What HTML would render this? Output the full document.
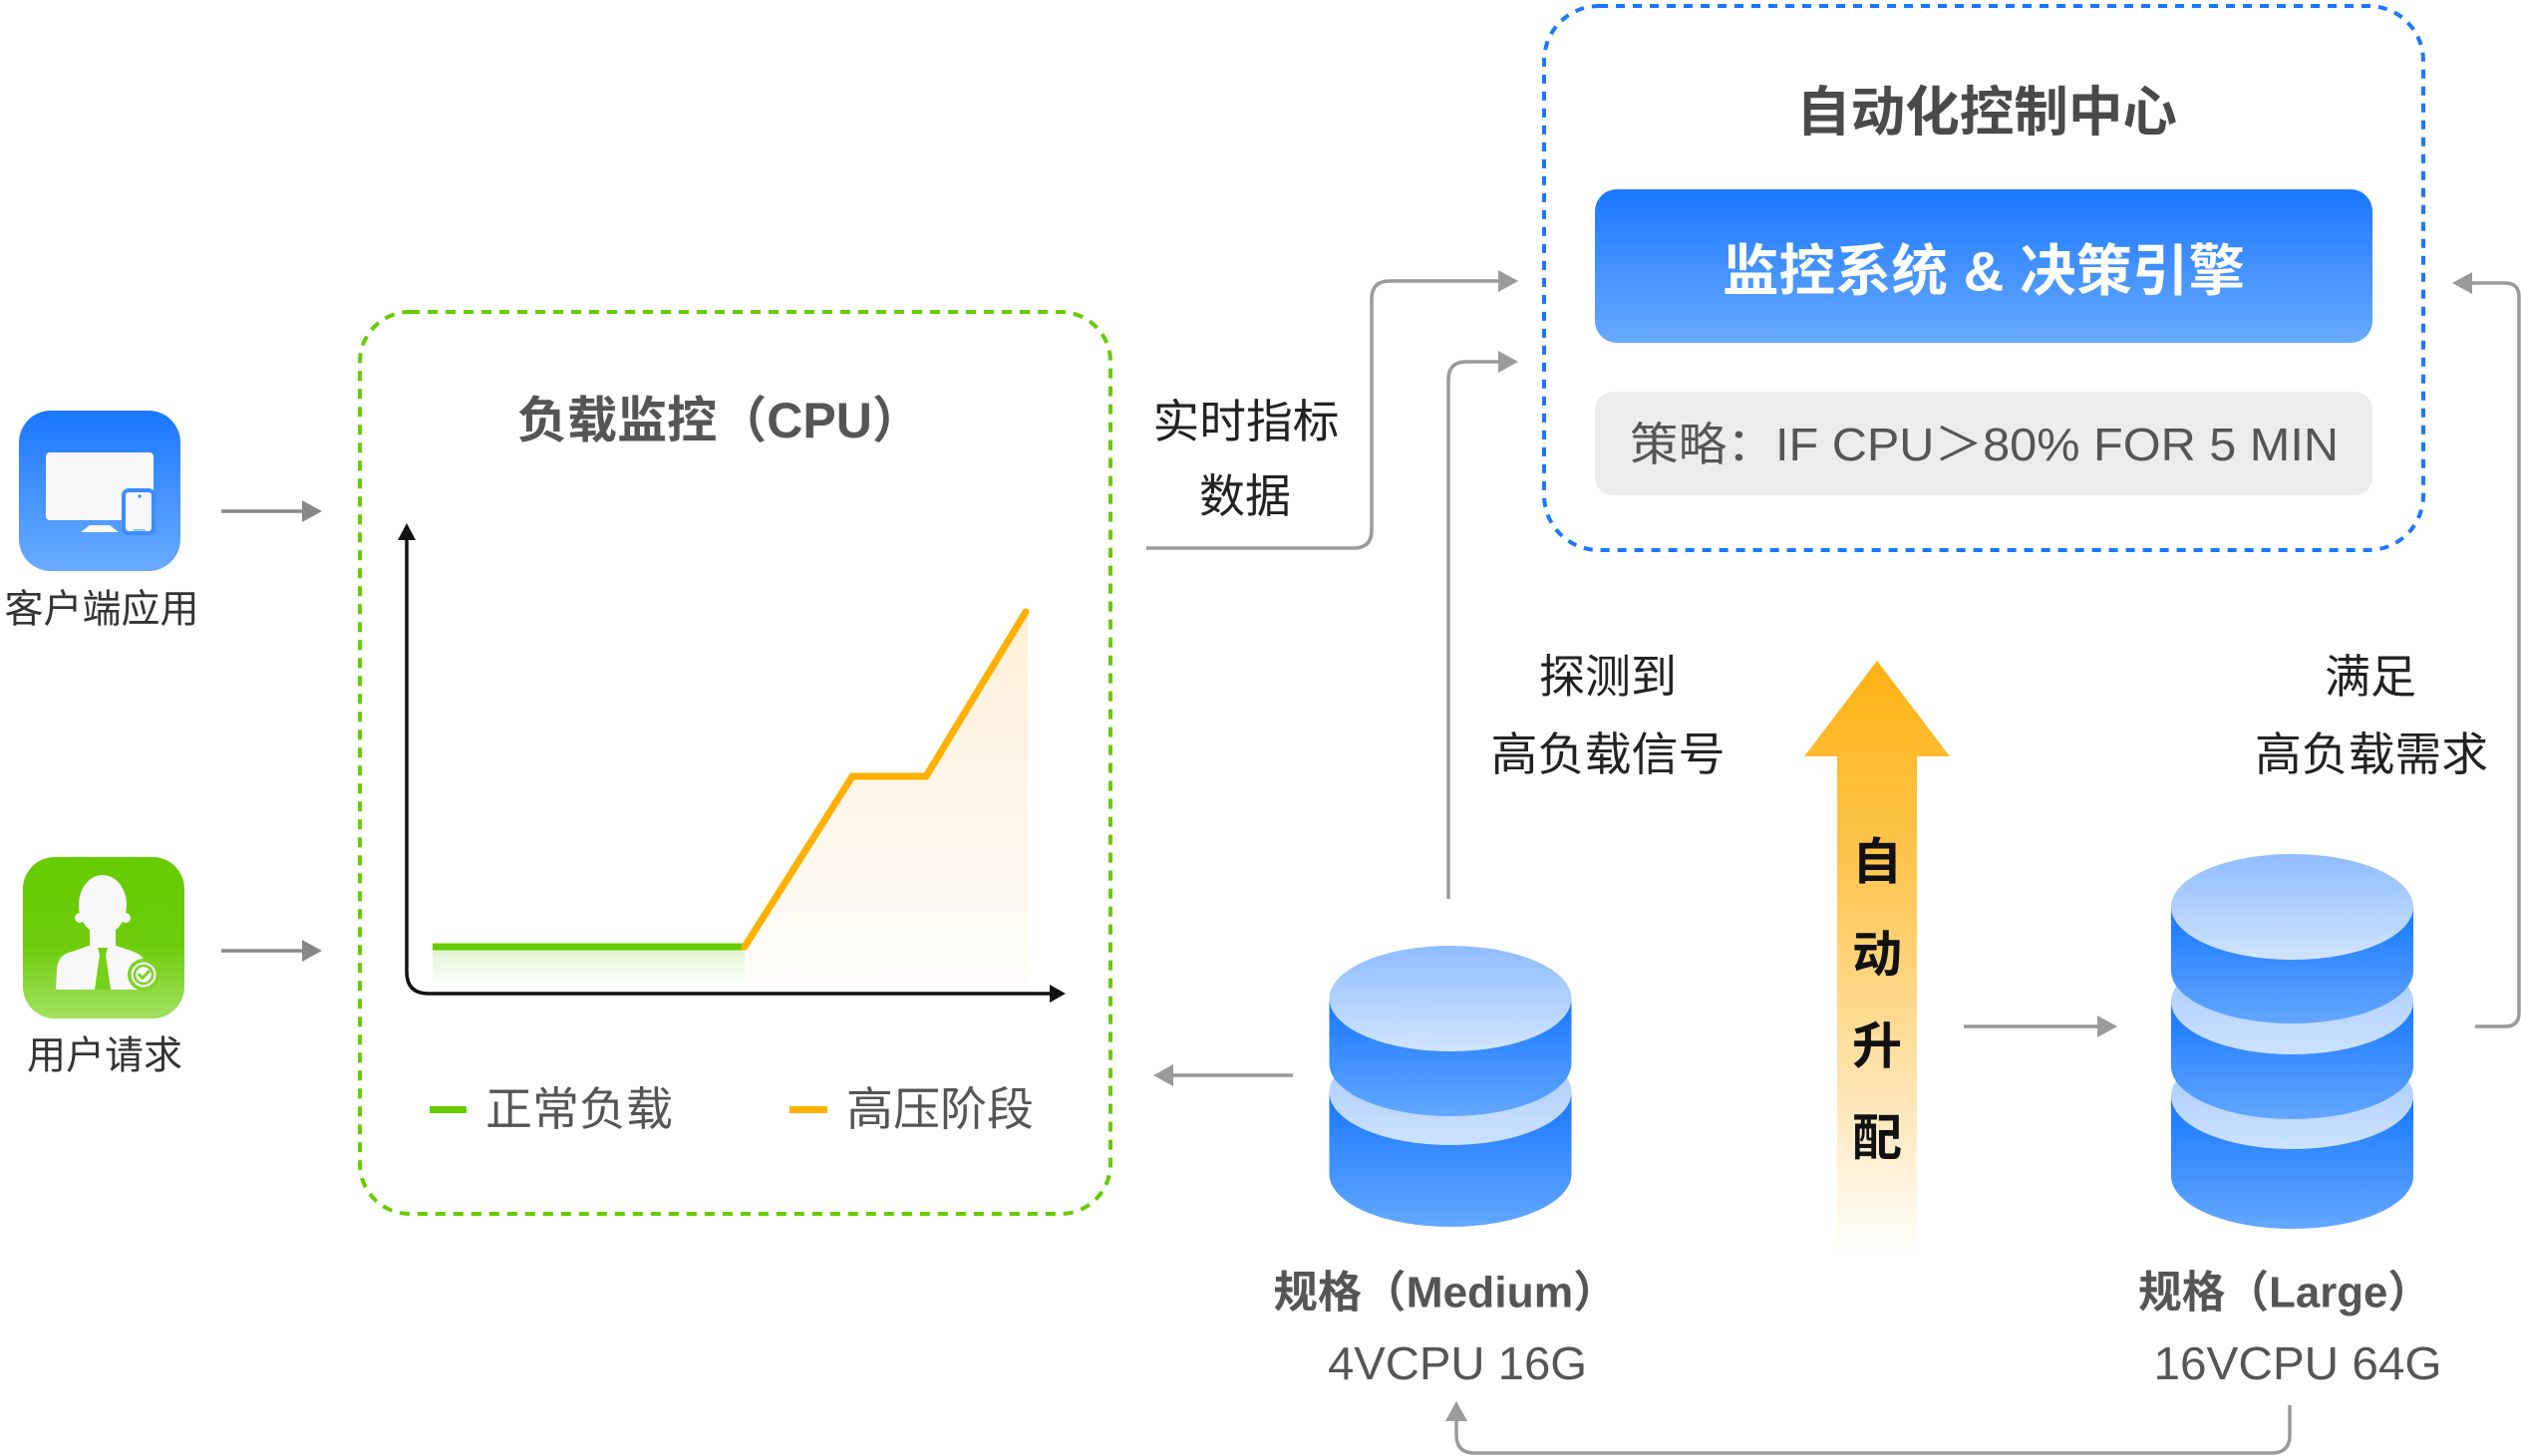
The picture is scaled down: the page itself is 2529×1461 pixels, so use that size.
<!DOCTYPE html>
<html>
<head>
<meta charset="utf-8">
<style>
html,body{margin:0;padding:0;background:#fff;}
svg{display:block;}
text{font-family:"Liberation Sans","Noto Sans CJK SC",sans-serif;}
</style>
</head>
<body>
<svg width="2529" height="1461" viewBox="0 0 2529 1461" xmlns="http://www.w3.org/2000/svg">
<defs>
  <linearGradient id="gBlueIcon" x1="0" y1="0" x2="0" y2="1">
    <stop offset="0" stop-color="#1a77ff"/>
    <stop offset="1" stop-color="#6aabff"/>
  </linearGradient>
  <linearGradient id="gGreenIcon" x1="0" y1="0" x2="0" y2="1">
    <stop offset="0" stop-color="#66cc00"/>
    <stop offset="0.55" stop-color="#6dcd0c"/>
    <stop offset="1" stop-color="#a3e063"/>
  </linearGradient>
  <linearGradient id="gBtn" x1="0" y1="0" x2="0" y2="1">
    <stop offset="0" stop-color="#1a77ff"/>
    <stop offset="1" stop-color="#68aaff"/>
  </linearGradient>
  <linearGradient id="gSide" x1="0" y1="0" x2="0" y2="1">
    <stop offset="0" stop-color="#1677ff"/>
    <stop offset="1" stop-color="#63a7ff"/>
  </linearGradient>
  <linearGradient id="gTop" x1="0" y1="0" x2="0" y2="1">
    <stop offset="0" stop-color="#8fbcff"/>
    <stop offset="1" stop-color="#d1e5ff"/>
  </linearGradient>
  <linearGradient id="gTop2" x1="0" y1="0" x2="0" y2="1">
    <stop offset="0" stop-color="#a2c7ff"/>
    <stop offset="1" stop-color="#cde2ff"/>
  </linearGradient>
  <linearGradient id="gArrow" gradientUnits="userSpaceOnUse" x1="0" y1="663" x2="0" y2="1260">
    <stop offset="0" stop-color="#ffb214"/>
    <stop offset="0.35" stop-color="#fec650"/>
    <stop offset="0.65" stop-color="#fddf9e"/>
    <stop offset="0.83" stop-color="#feefd0"/>
    <stop offset="1" stop-color="#ffffff"/>
  </linearGradient>
  <linearGradient id="gGreenFill" gradientUnits="userSpaceOnUse" x1="0" y1="950" x2="0" y2="988">
    <stop offset="0" stop-color="#e3f5d2"/>
    <stop offset="1" stop-color="#fbfef8"/>
  </linearGradient>
  <linearGradient id="gOrangeFill" gradientUnits="userSpaceOnUse" x1="0" y1="613" x2="0" y2="988">
    <stop offset="0" stop-color="#fdefd8"/>
    <stop offset="1" stop-color="#fffdfa"/>
  </linearGradient>
</defs>

<!-- ============ Left icons ============ -->
<rect x="19" y="412" width="162" height="161" rx="32" fill="url(#gBlueIcon)"/>
<rect x="46" y="454" width="108" height="68" rx="4" fill="#f8f8f8"/>
<polygon points="90,527 110,527 119,534 81,534" fill="#f8f8f8"/>
<rect x="124" y="492" width="30" height="43" rx="5" fill="#f8f8f8" stroke="#3d8cff" stroke-width="4"/>
<circle cx="140" cy="498" r="1.6" fill="#3d8cff"/>
<rect x="134" y="531" width="12" height="1.6" fill="#8ab8ff"/>
<text x="102" y="612" font-size="39" fill="#333" text-anchor="middle" dominant-baseline="central" textLength="195" lengthAdjust="spacingAndGlyphs">客户端应用</text>

<rect x="23" y="860" width="162" height="162" rx="32" fill="url(#gGreenIcon)"/>
<!-- person -->
<ellipse cx="103" cy="908" rx="24" ry="30" fill="#f8f8f8"/>
<circle cx="80" cy="921" r="5" fill="#f8f8f8"/>
<circle cx="126" cy="921" r="5" fill="#f8f8f8"/>
<rect x="90" y="926" width="26" height="26" fill="#f8f8f8"/>
<path d="M56,993 L57,972 Q58,958 72,955 L92,948 L114,948 L134,955 Q146,959 147,972 L148,993 Z" fill="#f8f8f8"/>
<polygon points="98,951 108,951 106,958 100,958" fill="#74d018"/>
<polygon points="100,958 106,958 111,993 95,993" fill="#74d018"/>
<circle cx="144" cy="978" r="16" fill="#7bd425"/>
<circle cx="144" cy="978" r="12.5" fill="#f8f8f8"/>
<circle cx="144" cy="978" r="9" fill="#f8f8f8" stroke="#7bd425" stroke-width="2.6"/>
<path d="M139.5,978 L143,981.5 L149,975" fill="none" stroke="#7bd425" stroke-width="3" stroke-linecap="round" stroke-linejoin="round"/>
<text x="105" y="1060" font-size="39" fill="#333" text-anchor="middle" dominant-baseline="central" textLength="156" lengthAdjust="spacingAndGlyphs">用户请求</text>

<!-- icon arrows -->
<line x1="222" y1="513" x2="305" y2="513" stroke="#888" stroke-width="3.5"/>
<polygon points="323,513 303,502 303,524" fill="#888"/>
<line x1="222" y1="954" x2="305" y2="954" stroke="#888" stroke-width="3.5"/>
<polygon points="323,954 303,943 303,965" fill="#888"/>

<!-- ============ Green dashed box (CPU) ============ -->
<rect x="361" y="313" width="753" height="905" rx="50" fill="none" stroke="#66cc00" stroke-width="4" stroke-dasharray="10 8"/>
<text x="722" y="422" font-size="50" font-weight="bold" fill="#555" text-anchor="middle" dominant-baseline="central" textLength="406" lengthAdjust="spacingAndGlyphs">负载监控（CPU）</text>

<!-- chart fills -->
<rect x="434" y="950" width="313" height="38" fill="url(#gGreenFill)"/>
<polygon points="747,950 855,779 929,779 1031,613 1031,988 747,988" fill="url(#gOrangeFill)"/>
<!-- axes -->
<path d="M408,540 L408,975 Q408,997 430,997 L1056,997" fill="none" stroke="#111" stroke-width="3.5"/>
<polygon points="408,525 399,542 417,542" fill="#111"/>
<polygon points="1069,997 1053,988 1053,1006" fill="#111"/>
<!-- lines -->
<line x1="434" y1="950" x2="747" y2="950" stroke="#66cc00" stroke-width="7"/>
<polyline points="747,950 855,779 929,779 1029,614" fill="none" stroke="#ffb000" stroke-width="7" stroke-linecap="round" stroke-linejoin="miter"/>
<!-- legend -->
<rect x="431" y="1110" width="37" height="7" fill="#66cc00"/>
<text x="487" y="1113" font-size="46" fill="#555" dominant-baseline="central" textLength="188" lengthAdjust="spacingAndGlyphs">正常负载</text>
<rect x="792" y="1110" width="38" height="7" fill="#ffb000"/>
<text x="849" y="1113" font-size="46" fill="#555" dominant-baseline="central" textLength="188" lengthAdjust="spacingAndGlyphs">高压阶段</text>

<!-- ============ Blue dashed box ============ -->
<rect x="1549" y="6" width="882" height="546" rx="55" fill="none" stroke="#1a77ff" stroke-width="4" stroke-dasharray="9 8"/>
<text x="1993" y="113" font-size="54" font-weight="bold" fill="#4a4a4a" text-anchor="middle" dominant-baseline="central" textLength="382" lengthAdjust="spacingAndGlyphs">自动化控制中心</text>
<rect x="1600" y="190" width="780" height="154" rx="22" fill="url(#gBtn)"/>
<text x="1990" y="272" font-size="56" font-weight="bold" fill="#fff" text-anchor="middle" dominant-baseline="central" textLength="524" lengthAdjust="spacingAndGlyphs">监控系统 &amp; 决策引擎</text>
<rect x="1600" y="393" width="780" height="104" rx="18" fill="#ececec"/>
<text x="1635" y="446" font-size="46" fill="#555" dominant-baseline="central" textLength="711" lengthAdjust="spacingAndGlyphs">策略：IF CPU＞80% FOR 5 MIN</text>

<!-- ============ Connectors ============ -->
<g fill="none" stroke="#9a9a9a" stroke-width="3.5">
  <path d="M1150,550 L1358,550 Q1376,550 1376,532 L1376,300 Q1376,282 1394,282 L1505,282"/>
  <path d="M1453,902 L1453,381 Q1453,363 1471,363 L1505,363"/>
  <path d="M2483,1030 L2513,1030 Q2527,1030 2527,1016 L2527,298 Q2527,284 2513,284 L2478,284"/>
  <path d="M1297,1079 L1175,1079"/>
  <path d="M1970,1030 L2106,1030"/>
  <path d="M2297,1410 L2297,1440 Q2297,1458 2279,1458 L1479,1458 Q1461,1458 1461,1440 L1461,1424"/>
</g>
<g fill="#9a9a9a">
  <polygon points="1523,282 1503,271 1503,293"/>
  <polygon points="1523,363 1503,352 1503,374"/>
  <polygon points="2460,284 2480,273 2480,295"/>
  <polygon points="1157,1079 1177,1068 1177,1090"/>
  <polygon points="2124,1030 2104,1019 2104,1041"/>
  <polygon points="1461,1406 1450,1426 1472,1426"/>
</g>

<!-- connector labels -->
<text x="1250" y="423" font-size="46" fill="#222" text-anchor="middle" dominant-baseline="central" textLength="187" lengthAdjust="spacingAndGlyphs">实时指标</text>
<text x="1249" y="498" font-size="46" fill="#222" text-anchor="middle" dominant-baseline="central" textLength="92" lengthAdjust="spacingAndGlyphs">数据</text>
<text x="1613" y="679" font-size="46" fill="#222" text-anchor="middle" dominant-baseline="central" textLength="138" lengthAdjust="spacingAndGlyphs">探测到</text>
<text x="1613" y="757" font-size="46" fill="#222" text-anchor="middle" dominant-baseline="central" textLength="235" lengthAdjust="spacingAndGlyphs">高负载信号</text>
<text x="2378" y="679" font-size="46" fill="#222" text-anchor="middle" dominant-baseline="central" textLength="92" lengthAdjust="spacingAndGlyphs">满足</text>
<text x="2379" y="757" font-size="46" fill="#222" text-anchor="middle" dominant-baseline="central" textLength="234" lengthAdjust="spacingAndGlyphs">高负载需求</text>

<!-- ============ Big orange arrow ============ -->
<polygon points="1883,663 1956,759 1923,759 1923,1258 1843,1258 1843,759 1810,759" fill="url(#gArrow)"/>
<g font-size="50" font-weight="bold" fill="#111" text-anchor="middle" dominant-baseline="central">
  <text x="1883" y="865">自</text>
  <text x="1883" y="958">动</text>
  <text x="1883" y="1050">升</text>
  <text x="1883" y="1142">配</text>
</g>

<!-- ============ Medium DB ============ -->
<g>
  <path d="M1333.5,1096 L1333.5,1178 A121.5,53 0 0 0 1576.5,1178 L1576.5,1096 Z" fill="url(#gSide)"/>
  <ellipse cx="1455" cy="1096" rx="121.5" ry="53" fill="url(#gTop2)"/>
  <path d="M1333.5,1002 L1333.5,1067 A121.5,53 0 0 0 1576.5,1067 L1576.5,1002 Z" fill="url(#gSide)"/>
  <ellipse cx="1455" cy="1002" rx="121.5" ry="53" fill="url(#gTop)"/>
</g>
<text x="1450" y="1297" font-size="44" font-weight="bold" fill="#555" text-anchor="middle" dominant-baseline="central" textLength="345" lengthAdjust="spacingAndGlyphs">规格（Medium）</text>
<text x="1462" y="1368" font-size="46" fill="#555" text-anchor="middle" dominant-baseline="central" textLength="260" lengthAdjust="spacingAndGlyphs">4VCPU 16G</text>

<!-- ============ Large DB ============ -->
<g>
  <path d="M2178,1100 L2178,1180 A121.5,53 0 0 0 2421,1180 L2421,1100 Z" fill="url(#gSide)"/>
  <ellipse cx="2299.5" cy="1100" rx="121.5" ry="53" fill="url(#gTop2)"/>
  <path d="M2178,1005 L2178,1070 A121.5,53 0 0 0 2421,1070 L2421,1005 Z" fill="url(#gSide)"/>
  <ellipse cx="2299.5" cy="1005" rx="121.5" ry="53" fill="url(#gTop2)"/>
  <path d="M2178,910 L2178,974 A121.5,53 0 0 0 2421,974 L2421,910 Z" fill="url(#gSide)"/>
  <ellipse cx="2299.5" cy="910" rx="121.5" ry="53" fill="url(#gTop)"/>
</g>
<text x="2292" y="1297" font-size="44" font-weight="bold" fill="#555" text-anchor="middle" dominant-baseline="central" textLength="294" lengthAdjust="spacingAndGlyphs">规格（Large）</text>
<text x="2305" y="1368" font-size="46" fill="#555" text-anchor="middle" dominant-baseline="central" textLength="289" lengthAdjust="spacingAndGlyphs">16VCPU 64G</text>
</svg>
</body>
</html>
